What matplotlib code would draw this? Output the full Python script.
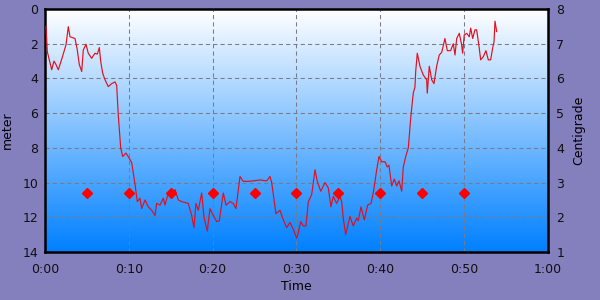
import numpy as np
import matplotlib
matplotlib.use("Agg")
import matplotlib.pyplot as plt
from matplotlib.colors import LinearSegmentedColormap
from matplotlib.ticker import FuncFormatter

# Depth profile (minutes, meters)
time_min = [0.12, 0.27, 0.80, 1.07, 1.31, 1.59, 1.99, 2.50, 2.78, 2.98, 3.58, 3.85, 4.09, 4.38, 4.57,
            4.89, 5.16, 5.57, 5.96, 6.24, 6.48, 6.64, 6.88, 7.16, 7.55, 7.96, 8.35, 8.55, 8.74, 9.03,
            9.27, 9.66, 10.06, 10.34, 10.74, 11.01, 11.33, 11.53, 11.93, 12.32, 12.73, 13.12, 13.32,
            13.72, 14.11, 14.31, 14.71, 15.11, 15.51, 15.90, 16.31, 17.09, 17.50, 17.77, 18.01, 18.29,
            18.69, 18.97, 19.36, 19.68, 20.08, 20.48, 20.79, 21.27, 21.59, 22.07, 22.46, 22.78, 23.26,
            23.65, 24.25, 24.85, 25.65, 26.44, 26.84, 27.04, 27.55, 28.03, 28.43, 28.83, 29.22, 29.62,
            30.02, 30.21, 30.50, 30.81, 31.13, 31.41, 31.81, 32.21, 32.48, 32.89, 33.40, 33.79, 34.11,
            34.39, 34.79, 35.19, 35.39, 35.58, 35.87, 36.38, 36.77, 37.18, 37.37, 37.69, 38.09, 38.49,
            38.89, 39.16, 39.57, 39.84, 40.16, 40.56, 40.83, 41.03, 41.36, 41.67, 41.95, 42.23, 42.55,
            42.74, 43.03, 43.34, 43.66, 43.93, 44.13, 44.22, 44.41, 44.73, 45.12, 45.53, 45.60, 45.84,
            46.13, 46.40, 46.72, 47.03, 47.32, 47.71, 47.99, 48.39, 48.70, 48.91, 49.11, 49.42, 49.70,
            49.82, 50.01, 50.30, 50.61, 50.78, 51.02, 51.29, 51.49, 51.80, 51.97, 52.28, 52.60, 52.88,
            53.16, 53.40, 53.56, 53.68, 53.88]
depth_m = [1.0, 2.45, 3.5, 3.0, 3.2, 3.5, 2.9, 2.07, 1.02, 1.6, 1.7, 2.36, 3.2, 3.6, 2.36,
           2.03, 2.55, 2.84, 2.55, 2.6, 2.22, 3.0, 3.7, 4.08, 4.47, 4.3, 4.2, 4.4, 6.1, 8.0,
           8.5, 8.3, 8.6, 8.85, 10.1, 11.1, 10.9, 11.5, 11.0, 11.4, 11.6, 11.9, 11.2,
           11.3, 10.9, 11.3, 10.6, 10.9, 10.4, 11.0, 11.1, 11.2, 11.9, 12.6, 11.2, 11.6,
           10.6, 12.0, 12.8, 11.5, 11.9, 12.25, 12.2, 10.6, 11.3, 11.1, 11.2, 11.5, 9.65,
           9.93, 9.93, 9.9, 9.85, 9.9, 9.65, 10.0, 11.8, 11.6, 12.15, 12.6, 12.3, 12.7,
           13.2, 12.9, 12.25, 12.5, 12.5, 11.1, 10.7, 9.26, 9.93, 10.5, 10.0, 10.3, 11.4,
           10.8, 11.2, 10.8, 11.1, 12.05, 13.0, 11.95, 12.5, 12.05, 12.2, 11.4, 12.15, 11.3,
           11.2, 10.6, 9.26, 8.5, 8.8, 8.8, 9.1, 9.0, 10.2, 9.8, 10.2, 9.9, 10.5,
           9.1, 8.5, 8.0, 6.1, 4.85, 4.5, 3.6, 2.55, 3.3, 3.8, 4.08, 4.85, 3.3,
           4.08, 4.3, 3.3, 2.65, 2.5, 1.7, 2.4, 2.4, 2.0, 2.65, 1.7, 1.4, 2.07,
           2.55, 1.5, 1.4, 1.6, 1.1, 1.7, 1.2, 1.2, 2.25, 2.93, 2.75, 2.4, 2.93,
           2.93, 2.25, 1.9, 0.7, 1.3]

# Temperature samples (minutes, Centigrade)
temp_time = [5, 10, 15, 20, 25, 30, 35, 40, 45, 50]
temp_c = [2.7, 2.7, 2.7, 2.7, 2.7, 2.7, 2.7, 2.7, 2.7, 2.7]

x_ticks = [0, 10, 20, 30, 40, 50, 60]
depth_ticks = [0, 2, 4, 6, 8, 10, 12, 14]
temp_ticks = [1, 2, 3, 4, 5, 6, 7, 8]

bg = '#8480BE'
fig = plt.figure(figsize=(6, 3), dpi=100, facecolor=bg)
ax = fig.add_axes([0.075, 0.16, 0.8383, 0.81])

cmap = LinearSegmentedColormap.from_list('bg', ['#FFFFFF', '#0080FF'])
grad = np.linspace(0, 1, 256).reshape(-1, 1)
ax.imshow(grad, cmap=cmap, aspect='auto', extent=[0, 60, 14, 0], zorder=0, interpolation='bicubic')

ax.set_xlim(0, 60)
ax.set_ylim(14, 0)
ax.set_xticks(x_ticks)
ax.set_yticks(depth_ticks)
ax.xaxis.set_major_formatter(FuncFormatter(lambda v, p: f"{int(v)//60}:{int(v)%60:02d}"))

for v in x_ticks[1:-1]:
    ax.axvline(v, color='#7A7A8A', lw=0.75, ls=(0, (4, 3)), zorder=1)
for v in depth_ticks[1:-1]:
    ax.axhline(v, color='#7A7A8A', lw=0.75, ls=(0, (4, 3)), zorder=1)

ax.plot(time_min, depth_m, color='#E0101E', lw=0.85, zorder=3)

ax.tick_params(axis='both', length=0, labelsize=9, colors='#101010')
ax.tick_params(axis='x', pad=8)
ax.tick_params(axis='y', pad=5)
for s in ax.spines.values():
    s.set_linewidth(1.8)
    s.set_color('black')
ax.set_ylabel('meter', fontsize=9, labelpad=6)
ax.set_xlabel('Time', fontsize=9, labelpad=3)

ax2 = ax.twinx()
ax2.set_ylim(1, 8)
ax2.set_yticks(temp_ticks)
ax2.plot(temp_time, temp_c, ls='none', marker='D', color='#FF0000', markersize=5.5, zorder=4)
ax2.tick_params(axis='y', length=0, labelsize=9, pad=6, colors='#101010')
ax2.set_ylabel('Centigrade', fontsize=9, labelpad=6)
for s in ax2.spines.values():
    s.set_visible(False)

fig.savefig('out.png', dpi=100, facecolor=bg)
